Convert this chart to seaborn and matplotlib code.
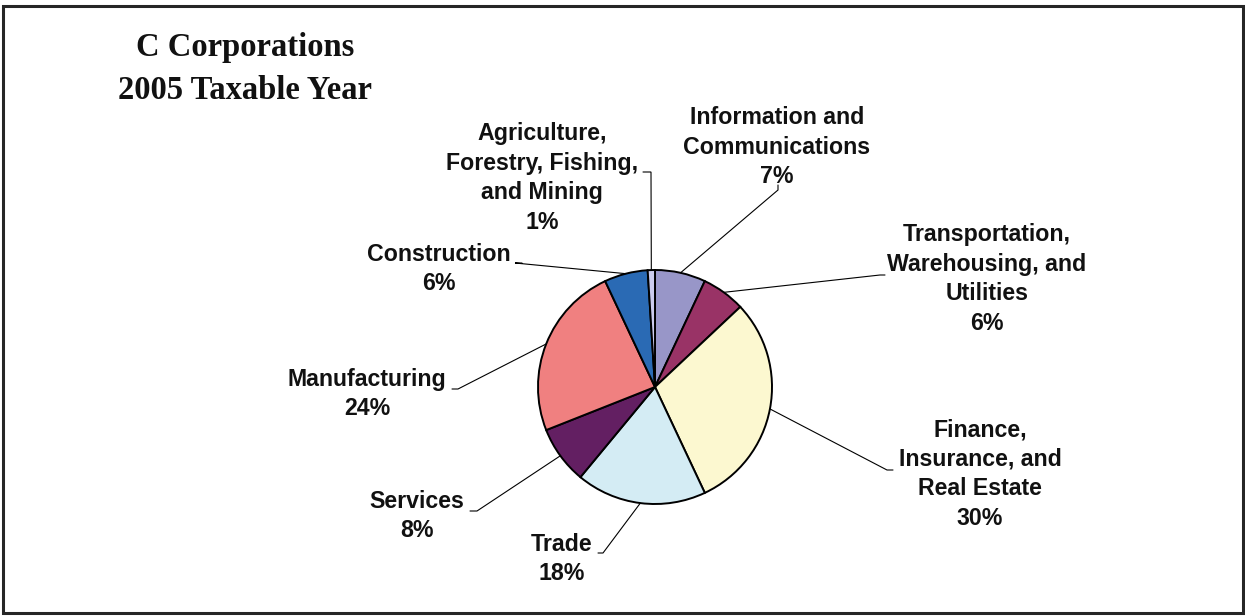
import matplotlib
matplotlib.use("Agg")
import matplotlib.pyplot as plt
import numpy as np
import seaborn as sns
from matplotlib.patches import Rectangle

# Share of C corporations by industry, 2005 taxable year (percent)
industries = [
    "Information and\nCommunications",
    "Transportation,\nWarehousing, and\nUtilities",
    "Finance,\nInsurance, and\nReal Estate",
    "Trade",
    "Services",
    "Manufacturing",
    "Construction",
    "Agriculture,\nForestry, Fishing,\nand Mining",
]
shares = [7, 6, 30, 18, 8, 24, 6, 1]
slice_colors = ["#9896C8", "#993366", "#FCF8D0", "#D4ECF4",
                "#631F62", "#F08080", "#2A6AB4", "#CCCCEE"]
title_lines = ["C Corporations", "2005 Taxable Year"]

sns.set_theme(style="white")
plt.rcParams["font.family"] = ["Liberation Sans", "DejaVu Sans"]

W, H = 1245, 616
fig = plt.figure(figsize=(W / 100, H / 100), dpi=100)
ax = fig.add_axes([0, 0, 1, 1])

# Pie geometry in pixel units (y measured upward)
cx, cy, r = 655, 229, 117
wedges, _ = ax.pie(shares, colors=slice_colors, startangle=90,
                   counterclock=False, center=(cx, cy), radius=r,
                   wedgeprops=dict(edgecolor="black", linewidth=1.4),
                   frame=True)
ax.set_xlim(0, W)
ax.set_ylim(0, H)
ax.set_aspect("equal")
ax.axis("off")

# Label text centres, elbow points and short tick ends for the leader lines
label_xy = [(777, 469), (987, 337), (980, 142), (562, 57),
            (417, 100), (367, 222), (439, 347), (542, 438)]
elbow_xy = [(778, 426), (880, 341), (887, 146), (603, 63),
            (477, 105), (458, 227), (515, 353), (651, 444)]
tick_xy = [(778, 431), (885, 341), (893, 146), (598, 63),
           (470, 105), (452, 227), (522, 353), (643, 444)]

for w, txt, val, lxy, exy, txy in zip(wedges, industries, shares,
                                       label_xy, elbow_xy, tick_xy):
    mid = np.deg2rad((w.theta1 + w.theta2) / 2)
    px, py = cx + r * np.cos(mid), cy + r * np.sin(mid)
    ax.plot([px, exy[0], txy[0]], [py, exy[1], txy[1]],
            color="black", lw=0.8, solid_joinstyle="miter", zorder=1)
    ax.text(lxy[0], lxy[1], f"{txt}\n{val}%", ha="center", va="center",
            fontsize=16.7, fontweight="bold", linespacing=1.37,
            color="#111111")

ax.text(245, 547, "\n".join(title_lines), ha="center", va="center",
        fontsize=23.5, fontweight="bold", family=["Liberation Serif"],
        linespacing=1.47, color="#111111")

ax.add_patch(Rectangle((3, 3), 1240, 607, fill=False,
                       edgecolor="#262626", linewidth=2.2, zorder=5))

fig.savefig("out.png", dpi=100)
